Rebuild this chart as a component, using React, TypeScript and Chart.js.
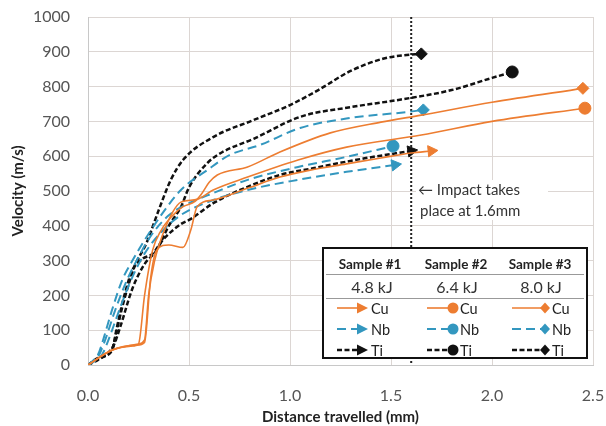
import React, { useEffect, useRef } from "react";
import { Chart, registerables } from "chart.js";

Chart.register(...registerables);

// ---- Data (distance in mm, velocity in m/s) ----
const cu1X = [0, 0.12, 0.24, 0.28, 0.31, 0.34, 0.40, 0.47, 0.51, 0.54, 0.62, 0.80, 0.95, 1.10, 1.28, 1.45, 1.60, 1.70];
const cu1Y = [0, 43, 57, 65, 250, 330, 345, 338, 390, 455, 474, 510, 540, 560, 578, 595, 609, 615];
const cu2X = [0, 0.12, 0.25, 0.28, 0.30, 0.33, 0.37, 0.42, 0.46, 0.54, 0.62, 0.79, 1.04, 1.28, 1.65, 2.00, 2.46];
const cu2Y = [0, 43, 60, 72, 200, 300, 375, 440, 468, 476, 503, 540, 589, 626, 661, 700, 738];
const cu3X = [0, 0.12, 0.23, 0.25, 0.28, 0.32, 0.36, 0.42, 0.47, 0.53, 0.56, 0.60, 0.64, 0.79, 0.95, 1.20, 1.45, 1.65, 2.00, 2.45];
const cu3Y = [0, 43, 55, 60, 200, 330, 385, 430, 455, 470, 490, 525, 546, 569, 612, 667, 698, 718, 755, 795];

const nb1X = [0, 0.04, 0.07, 0.10, 0.15, 0.21, 0.28, 0.36, 0.46, 0.62, 0.79, 1.04, 1.28, 1.52];
const nb1Y = [0, 15, 30, 70, 150, 240, 320, 380, 431, 474, 503, 532, 555, 575];
const nb2X = [0, 0.04, 0.06, 0.09, 0.13, 0.19, 0.25, 0.31, 0.40, 0.50, 0.62, 0.79, 1.04, 1.28, 1.51];
const nb2Y = [0, 15, 35, 80, 150, 240, 310, 370, 430, 465, 494, 532, 569, 598, 629];
const nb3X = [0, 0.03, 0.05, 0.07, 0.12, 0.17, 0.22, 0.26, 0.37, 0.46, 0.59, 0.70, 0.85, 1.05, 1.30, 1.58, 1.66];
const nb3Y = [0, 15, 30, 63, 160, 245, 300, 340, 437, 503, 560, 603, 632, 681, 710, 727, 733];

const ti1X = [0, 0.05, 0.12, 0.14, 0.18, 0.22, 0.27, 0.32, 0.37, 0.46, 0.51, 0.62, 0.79, 0.95, 1.12, 1.37, 1.60];
const ti1Y = [0, 20, 43, 100, 200, 273, 305, 320, 359, 405, 420, 465, 512, 546, 566, 594, 615];
const ti2X = [0, 0.05, 0.10, 0.13, 0.16, 0.22, 0.28, 0.34, 0.40, 0.46, 0.50, 0.59, 0.66, 0.82, 1.05, 1.30, 1.55, 1.80, 2.00, 2.10];
const ti2Y = [0, 18, 35, 60, 110, 220, 290, 330, 400, 454, 510, 580, 610, 650, 713, 741, 763, 790, 825, 842];
const ti3X = [0, 0.05, 0.08, 0.12, 0.14, 0.17, 0.23, 0.29, 0.35, 0.41, 0.47, 0.62, 0.82, 1.00, 1.14, 1.30, 1.46, 1.56, 1.65];
const ti3Y = [0, 15, 25, 45, 92, 167, 282, 351, 445, 532, 589, 655, 704, 747, 790, 845, 880, 890, 894];

const sampleLabels = ["Sample #1", "Sample #2", "Sample #3"];
const energyLabels = ["4.8 kJ", "6.4 kJ", "8.0 kJ"];
const materials = ["Cu", "Nb", "Ti"];
const impactX = 1.6;
const impactText = ["\u2190 Impact takes", "place at 1.6mm"];

const xMin = 0, xMax = 2.5, xStep = 0.5;
const yMin = 0, yMax = 1000, yStep = 100;

// ---- Styles ----
const ORANGE = "#ED7D31";
const BLUE = "#3397BF";
const BLACK = "#111111";
const FONT = "Lato";

const matStyle: Record<string, { color: string; width: number; dash: number[] }> = {
  Cu: { color: ORANGE, width: 1.6, dash: [] },
  Nb: { color: BLUE, width: 2, dash: [9, 5] },
  Ti: { color: BLACK, width: 2.5, dash: [5, 2.5] },
};
const sampleMarker = ["triangle", "circle", "rectRot"];

function pts(xs: number[], ys: number[]) {
  return xs.map((x, i) => ({ x, y: ys[i] }));
}

function makeDs(label: string, mat: string, sample: number, xs: number[], ys: number[], rot: number) {
  const st = matStyle[mat];
  const last = xs.length - 1;
  const rad = sample === 0 ? 6.5 : 6;
  return {
    label,
    data: pts(xs, ys),
    borderColor: st.color,
    backgroundColor: st.color,
    borderWidth: st.width,
    borderDash: st.dash,
    cubicInterpolationMode: "monotone" as const,
    pointStyle: sampleMarker[sample],
    pointRotation: rot,
    pointRadius: (c: any) => (c.dataIndex === last ? rad : 0),
    pointHoverRadius: (c: any) => (c.dataIndex === last ? rad : 0),
    pointBackgroundColor: st.color,
    pointBorderColor: st.color,
    pointBorderWidth: 1,
  };
}

function drawMarker(ctx: CanvasRenderingContext2D, kind: string, x: number, y: number, color: string) {
  ctx.save();
  ctx.fillStyle = color;
  ctx.setLineDash([]);
  ctx.beginPath();
  if (kind === "triangle") {
    ctx.moveTo(x + 6, y);
    ctx.lineTo(x - 5, y - 5.5);
    ctx.lineTo(x - 5, y + 5.5);
    ctx.closePath();
  } else if (kind === "circle") {
    ctx.arc(x, y, 5.5, 0, Math.PI * 2);
  } else {
    ctx.moveTo(x, y - 5.5);
    ctx.lineTo(x + 5, y);
    ctx.lineTo(x, y + 5.5);
    ctx.lineTo(x - 5, y);
    ctx.closePath();
  }
  ctx.fill();
  ctx.restore();
}

const overlayPlugin = {
  id: "overlay",
  beforeDatasetsDraw(chart: any) {
    const { ctx, chartArea, scales } = chart;
    const px = scales.x.getPixelForValue(impactX);
    ctx.save();
    ctx.strokeStyle = "#222";
    ctx.lineWidth = 2;
    ctx.setLineDash([2, 2]);
    ctx.beginPath();
    ctx.moveTo(px, chartArea.top);
    ctx.lineTo(px, chartArea.bottom);
    ctx.stroke();
    ctx.restore();
  },
  afterDatasetsDraw(chart: any) {
    const { ctx } = chart;
    ctx.save();
    // annotation text
    ctx.font = `15px ${FONT}`;
    ctx.textBaseline = "middle";
    ctx.textAlign = "left";
    ctx.fillStyle = "#ffffff";
    ctx.fillRect(416, 180, 132, 40);
    ctx.fillStyle = "#333";
    ctx.fillText(impactText[0], 418, 190);
    ctx.fillText(impactText[1], 420, 211);

    // legend table
    const L = 323, T = 248, R = 587, B = 358;
    ctx.fillStyle = "#ffffff";
    ctx.fillRect(L, T, R - L, B - T);
    ctx.strokeStyle = "#111";
    ctx.lineWidth = 2;
    ctx.setLineDash([]);
    ctx.strokeRect(L, T, R - L, B - T);

    ctx.strokeStyle = "#999";
    ctx.lineWidth = 1;
    ctx.beginPath();
    ctx.moveTo(L + 3, 274.5);
    ctx.lineTo(R - 3, 274.5);
    ctx.moveTo(L + 3, 298.5);
    ctx.lineTo(R - 3, 298.5);
    ctx.stroke();

    const headCx = [370, 456, 540];
    const kjCx = [372, 457, 541];
    ctx.textAlign = "center";
    ctx.fillStyle = "#222";
    ctx.font = `bold 13.5px ${FONT}`;
    sampleLabels.forEach((s, i) => ctx.fillText(s, headCx[i], 265));
    ctx.font = `16px ${FONT}`;
    ctx.fillStyle = "#333";
    energyLabels.forEach((s, i) => ctx.fillText(s, kjCx[i], 288));

    const lineStart = [337, 427, 512];
    const markerX = [362, 453, 545];
    const textX = [371, 460, 552];
    const rowY = [308, 329, 350];
    ctx.font = `14.5px ${FONT}`;
    ctx.textAlign = "left";
    materials.forEach((m, r) => {
      const st = matStyle[m];
      for (let c = 0; c < 3; c++) {
        ctx.save();
        ctx.strokeStyle = st.color;
        ctx.lineWidth = st.width;
        ctx.setLineDash(st.dash);
        ctx.beginPath();
        ctx.moveTo(lineStart[c], rowY[r]);
        ctx.lineTo(markerX[c], rowY[r]);
        ctx.stroke();
        ctx.restore();
        drawMarker(ctx, sampleMarker[c], markerX[c], rowY[r], st.color);
        ctx.fillStyle = "#222";
        ctx.fillText(m, textX[c], rowY[r] + 1);
      }
    });
    ctx.restore();
  },
};

export default function App() {
  const ref = useRef<HTMLCanvasElement | null>(null);
  useEffect(() => {
    if (!ref.current) return;
    const datasets = [
      makeDs("Cu 4.8 kJ", "Cu", 0, cu1X, cu1Y, 85),
      makeDs("Cu 6.4 kJ", "Cu", 1, cu2X, cu2Y, 0),
      makeDs("Cu 8.0 kJ", "Cu", 2, cu3X, cu3Y, 0),
      makeDs("Nb 4.8 kJ", "Nb", 0, nb1X, nb1Y, 82),
      makeDs("Nb 6.4 kJ", "Nb", 1, nb2X, nb2Y, 0),
      makeDs("Nb 8.0 kJ", "Nb", 2, nb3X, nb3Y, 0),
      makeDs("Ti 4.8 kJ", "Ti", 0, ti1X, ti1Y, 81),
      makeDs("Ti 6.4 kJ", "Ti", 1, ti2X, ti2Y, 0),
      makeDs("Ti 8.0 kJ", "Ti", 2, ti3X, ti3Y, 0),
    ];
    const chart = new Chart(ref.current, {
      type: "line",
      data: { datasets: datasets as any },
      options: {
        animation: false,
        responsive: false,
        layout: { padding: { top: 17, right: 13, left: 0, bottom: 0 } },
        plugins: { legend: { display: false }, tooltip: { enabled: false } },
        scales: {
          x: {
            type: "linear",
            min: xMin,
            max: xMax,
            ticks: {
              stepSize: xStep,
              callback: (v: any) => Number(v).toFixed(1),
              font: { family: FONT, size: 16 },
              color: "#555",
              padding: 21,
              maxRotation: 0,
            },
            grid: { color: "#dcd6d3", drawTicks: false },
            border: { color: "#c8c8c8" },
            title: {
              display: true,
              text: "Distance travelled (mm)",
              font: { family: FONT, size: 15, weight: "bold" },
              color: "#222",
              padding: { top: 0, bottom: 0 },
            },
            afterFit: (s: any) => {
              s.height = 61;
              s.paddingLeft = 0;
              s.paddingRight = 0;
            },
          },
          y: {
            type: "linear",
            min: yMin,
            max: yMax,
            ticks: {
              stepSize: yStep,
              callback: (v: any) => String(v),
              font: { family: FONT, size: 16 },
              color: "#555",
              padding: 18,
            },
            grid: { color: "#dcd6d3", drawTicks: false },
            border: { color: "#c8c8c8" },
            title: {
              display: true,
              text: "Velocity (m/s)",
              font: { family: FONT, size: 15, weight: "bold" },
              color: "#222",
              padding: { top: 9, bottom: 0 },
            },
            afterFit: (s: any) => {
              s.width = 88;
              s.paddingTop = 0;
              s.paddingBottom = 0;
            },
          },
        },
      },
      plugins: [overlayPlugin],
    });
    return () => chart.destroy();
  }, []);
  return (
    <div style={{ position: "absolute", left: 0, top: 0, width: 606, height: 426, background: "#fff" }}>
      <canvas ref={ref} width={606} height={426} style={{ display: "block" }} />
    </div>
  );
}
